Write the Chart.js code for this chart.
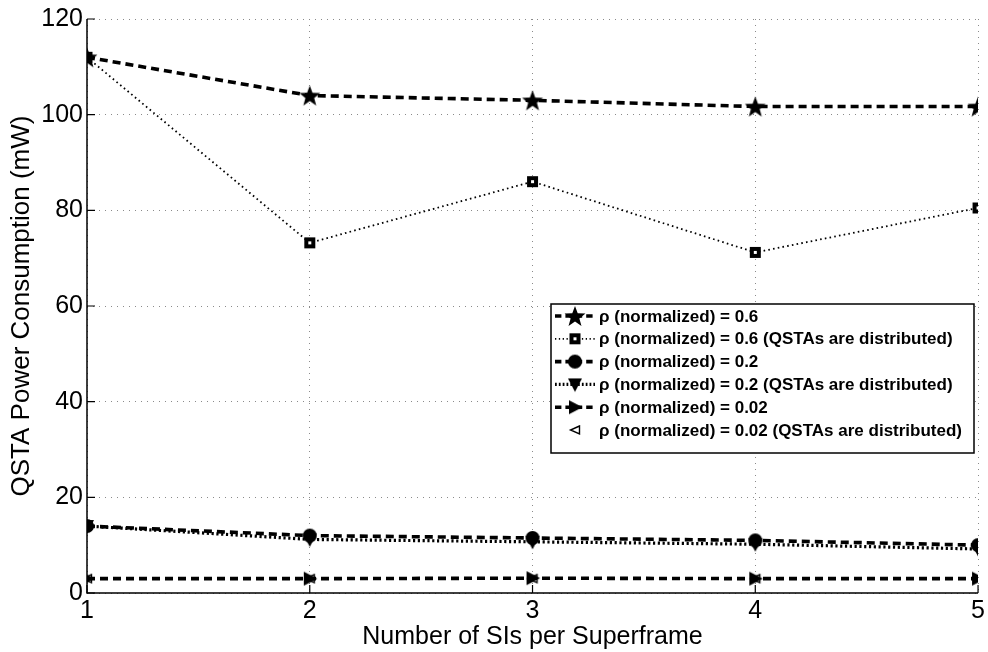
<!DOCTYPE html>
<html>
<head>
<meta charset="utf-8">
<script src="https://cdn.jsdelivr.net/npm/chart.js@4.4.1/dist/chart.umd.min.js"></script>
<style>
  html, body { margin: 0; padding: 0; background: #fff; }
  #wrap { width: 988px; height: 652px; position: relative; }
</style>
</head>
<body>
<div id="wrap"><canvas id="c" width="988" height="652"></canvas></div>
<script>
// Number of service intervals per superframe
const categories = [1, 2, 3, 4, 5];

// QSTA power consumption (mW) for each traffic load
const rho06      = [112, 104, 103, 101.7, 101.7];
const rho06Dist  = [112, 73.2, 86, 71.2, 80.5];
const rho02      = [14, 12, 11.5, 11, 10];
const rho02Dist  = [14, 11.2, 10.7, 10.2, 9.2];
const rho002     = [3, 3, 3.1, 3, 3];
const rho002Dist = [3, 3, 3, 3, 3];

const yTicks = [0, 20, 40, 60, 80, 100, 120];

const seriesNames = [
  'ρ (normalized) = 0.6',
  'ρ (normalized) = 0.6 (QSTAs are distributed)',
  'ρ (normalized) = 0.2',
  'ρ (normalized) = 0.2 (QSTAs are distributed)',
  'ρ (normalized) = 0.02',
  'ρ (normalized) = 0.02 (QSTAs are distributed)'
];

// Marker sprites drawn once on small canvases
function sprite(size, draw) {
  const cv = document.createElement('canvas');
  cv.width = size; cv.height = size;
  const g = cv.getContext('2d');
  draw(g, size / 2);
  return cv;
}
const starImg = sprite(24, (g, c) => {
  g.beginPath();
  const R = 11, r = 4.6;
  for (let i = 0; i < 10; i++) {
    const a = -Math.PI / 2 + i * Math.PI / 5;
    const rr = i % 2 === 0 ? R : r;
    g.lineTo(c + rr * Math.cos(a), c + 1 + rr * Math.sin(a));
  }
  g.closePath(); g.fillStyle = '#000'; g.fill();
});
const squareImg = sprite(13, (g, c) => {
  g.fillStyle = '#000'; g.fillRect(1, 1, 11, 11);
  g.fillStyle = '#fff'; g.fillRect(5, 5, 3, 3);
});
const circleImg = sprite(16, (g, c) => {
  g.beginPath(); g.arc(c, c, 7, 0, Math.PI * 2); g.fillStyle = '#000'; g.fill();
});
const triDownImg = sprite(18, (g, c) => {
  g.beginPath(); g.moveTo(2, 3); g.lineTo(16, 3); g.lineTo(9, 16.5); g.closePath();
  g.fillStyle = '#000'; g.fill();
});
const triRightImg = sprite(18, (g, c) => {
  g.beginPath(); g.moveTo(3, 2); g.lineTo(16.5, 9); g.lineTo(3, 16); g.closePath();
  g.fillStyle = '#000'; g.fill();
});
const triLeftImg = sprite(14, (g, c) => {
  g.beginPath(); g.moveTo(11.5, 3); g.lineTo(2.5, 7); g.lineTo(11.5, 11); g.closePath();
  g.lineWidth = 1.4; g.strokeStyle = '#000'; g.stroke();
});

const styles = [
  { dash: [8, 5], width: 3.6, point: starImg },
  { dash: [1.6, 3.2], width: 1.8, point: squareImg },
  { dash: [8, 5], width: 3.6, point: circleImg },
  { dash: [2.2, 2.6], width: 3.2, point: triDownImg },
  { dash: [8, 5], width: 3.6, point: triRightImg },
  { dash: [], width: 0, point: triLeftImg, noLine: true }
];
const seriesData = [rho06, rho06Dist, rho02, rho02Dist, rho002, rho002Dist];

const datasets = seriesData.map((d, i) => ({
  label: seriesNames[i],
  data: categories.map((c, k) => ({ x: c, y: d[k] })),
  borderColor: '#000',
  backgroundColor: '#000',
  borderWidth: styles[i].width,
  borderDash: styles[i].dash,
  showLine: !styles[i].noLine,
  pointStyle: styles[i].point,
  pointRadius: 6,
  tension: 0,
  fill: false
}));

const FONT = '"Liberation Sans", Arial, Helvetica, sans-serif';

// Legend box with line + marker samples, MATLAB style
const boxLegend = {
  id: 'boxLegend',
  afterDatasetsDraw(chart) {
    const ctx = chart.ctx;
    const x0 = 551, y0 = 304, w = 423, h = 149;
    ctx.save();
    ctx.fillStyle = '#fff';
    ctx.fillRect(x0, y0, w, h);
    ctx.strokeStyle = '#000';
    ctx.lineWidth = 1.5;
    ctx.strokeRect(x0, y0, w, h);
    ctx.font = 'bold 17px ' + FONT;
    ctx.textBaseline = 'middle';
    const rowH = 22.8;
    seriesNames.forEach((name, i) => {
      const cy = y0 + 12 + i * rowH;
      const st = styles[i];
      if (!st.noLine) {
        ctx.beginPath();
        ctx.setLineDash(st.dash.map(v => v * 0.8));
        ctx.lineWidth = st.width;
        ctx.moveTo(x0 + 4, cy);
        ctx.lineTo(x0 + 44, cy);
        ctx.stroke();
      }
      ctx.setLineDash([]);
      const img = st.point;
      ctx.drawImage(img, x0 + 24 - img.width / 2, cy - img.height / 2);
      ctx.fillStyle = '#000';
      ctx.fillText(name, x0 + 48, cy + 1);
    });
    ctx.restore();
  }
};

// Axis lines and inward tick marks
const axesFrame = {
  id: 'axesFrame',
  afterDraw(chart) {
    const { ctx, chartArea: a, scales: { x, y } } = chart;
    ctx.save();
    ctx.strokeStyle = '#000';
    ctx.lineWidth = 1.5;
    ctx.beginPath();
    ctx.moveTo(a.left, a.top); ctx.lineTo(a.left, a.bottom); ctx.lineTo(a.right, a.bottom);
    ctx.stroke();
    ctx.lineWidth = 1.2;
    ctx.beginPath();
    yTicks.forEach(v => {
      const py = y.getPixelForValue(v);
      ctx.moveTo(a.left, py); ctx.lineTo(a.left + 8, py);
    });
    categories.forEach(v => {
      const px = x.getPixelForValue(v);
      ctx.moveTo(px, a.bottom); ctx.lineTo(px, a.bottom - 8);
    });
    ctx.stroke();
    ctx.restore();
  }
};

new Chart(document.getElementById('c'), {
  type: 'line',
  data: { datasets },
  options: {
    responsive: false,
    animation: false,
    layout: { padding: { left: 0, right: 8, top: 17, bottom: 0 } },
    plugins: { legend: { display: false }, tooltip: { enabled: false } },
    scales: {
      x: {
        type: 'linear',
        min: 1, max: 5,
        afterBuildTicks(s) { s.ticks = categories.map(v => ({ value: v })); },
        afterFit(s) { s.height = 59; },
        grid: { color: '#8a8a8a', lineWidth: 1, drawTicks: false },
        border: { display: false, dash: [1, 5] },
        ticks: { color: '#000', font: { family: FONT, size: 25 }, padding: 3, maxRotation: 0 },
        title: { display: true, text: 'Number of SIs per Superframe', color: '#000',
                 font: { family: FONT, size: 25 }, padding: { top: 0, bottom: 0 } }
      },
      y: {
        type: 'linear',
        min: 0, max: 120,
        afterBuildTicks(s) { s.ticks = yTicks.map(v => ({ value: v })); },
        afterFit(s) { s.width = 87; },
        grid: { color: '#8a8a8a', lineWidth: 1, drawTicks: false },
        border: { display: false, dash: [1, 5] },
        ticks: { color: '#000', font: { family: FONT, size: 25 }, padding: 4 },
        title: { display: true, text: 'QSTA Power Consumption (mW)', color: '#000',
                 font: { family: FONT, size: 26 }, padding: { top: 6, bottom: 0 } }
      }
    }
  },
  plugins: [boxLegend, axesFrame]
});
</script>
</body>
</html>
